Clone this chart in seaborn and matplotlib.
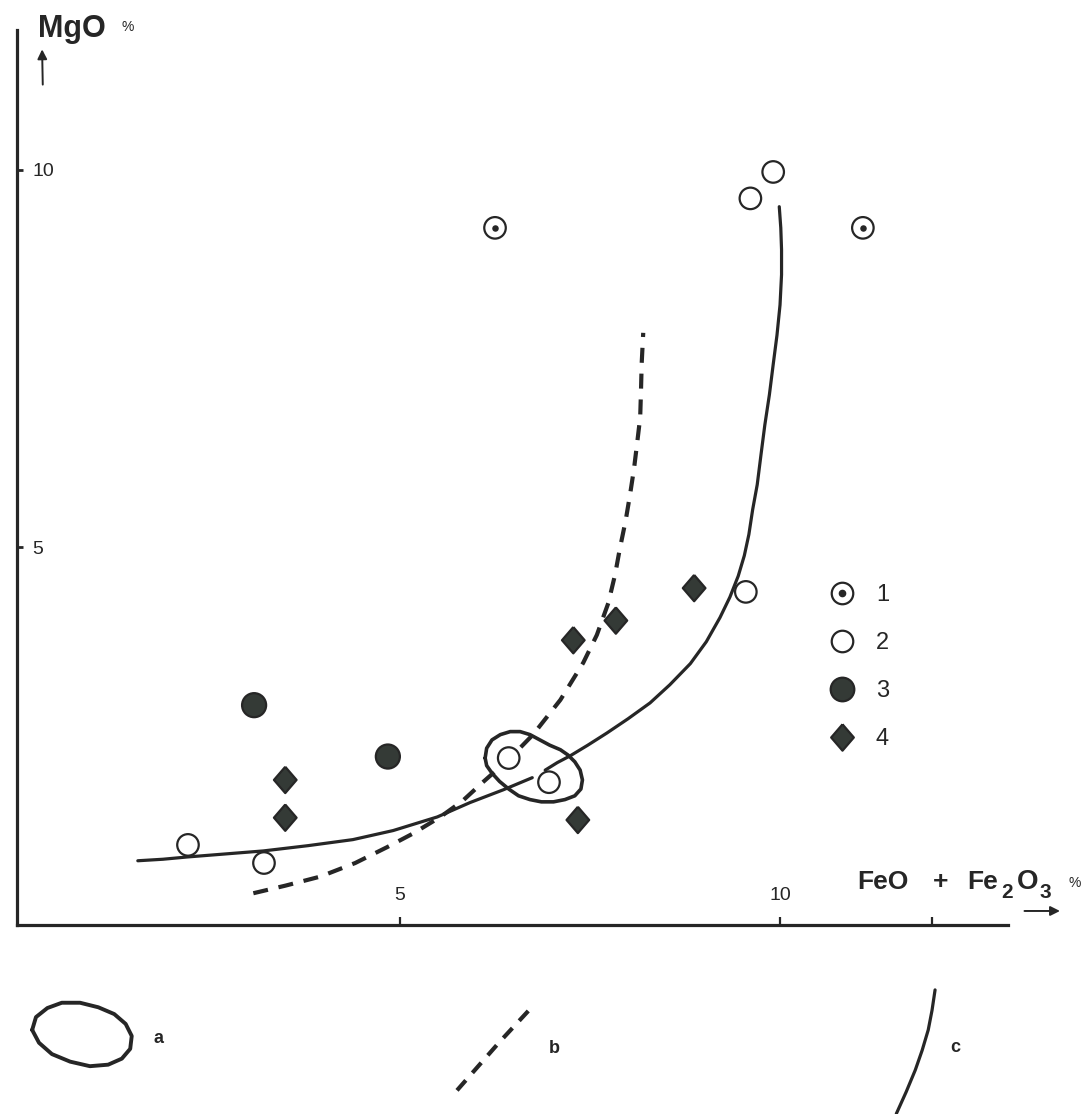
import matplotlib.pyplot as plt
import matplotlib as mpl
from matplotlib.lines import Line2D
import pandas as pd
import seaborn as sns

# --- data (FeO+Fe2O3 %, MgO %) ---
type1_x = [6.25, 11.09]
type1_y = [9.23, 9.23]
type2_x = [9.91, 9.61, 9.55, 6.43, 6.96, 2.21, 3.21]
type2_y = [9.97, 9.62, 4.41, 2.21, 1.89, 1.06, 0.82]
type3_x = [3.08, 4.84]
type3_y = [2.91, 2.23]
type4_x = [3.49, 3.49, 7.28, 7.84, 8.87, 7.34]
type4_y = [1.92, 1.42, 3.77, 4.03, 4.46, 1.39]

# trend c (solid), drawn in two strokes
solid_lo_x = [1.55, 1.88, 2.20, 2.70, 3.20, 3.79, 4.38, 4.91, 5.49, 5.92, 6.36, 6.74]
solid_lo_y = [0.85, 0.87, 0.90, 0.94, 0.98, 1.05, 1.13, 1.25, 1.43, 1.62, 1.79, 1.95]
solid_hi_x = [6.91, 7.07, 7.24, 7.47, 7.72, 8.00, 8.29, 8.55, 8.82, 9.03, 9.21, 9.34, 9.45, 9.53,
              9.59, 9.64, 9.70, 9.75, 9.80, 9.86, 9.91, 9.96, 10.00, 10.02, 10.02, 10.01, 9.99]
solid_hi_y = [2.05, 2.15, 2.24, 2.38, 2.54, 2.73, 2.94, 3.18, 3.46, 3.75, 4.07, 4.34, 4.62, 4.89,
              5.17, 5.50, 5.83, 6.23, 6.62, 7.02, 7.42, 7.81, 8.21, 8.61, 8.94, 9.23, 9.51]
# trend b (dashed)
dash_x = [3.07, 3.49, 3.95, 4.41, 4.83, 5.17, 5.53, 5.82, 6.09, 6.45, 6.75, 7.11, 7.41, 7.59,
          7.74, 7.83, 7.89, 7.97, 8.03, 8.08, 8.12, 8.16, 8.17, 8.18, 8.20]
dash_y = [0.42, 0.52, 0.64, 0.82, 1.03, 1.21, 1.43, 1.64, 1.89, 2.21, 2.52, 2.98, 3.47, 3.84,
          4.26, 4.64, 4.97, 5.36, 5.72, 6.05, 6.38, 6.72, 7.05, 7.44, 7.84]
# field a (closed outline)
field_x = [6.12, 6.14, 6.21, 6.32, 6.45, 6.58, 6.71, 6.84, 6.97, 7.11, 7.21, 7.30, 7.37, 7.40,
           7.38, 7.30, 7.17, 7.02, 6.86, 6.71, 6.56, 6.43, 6.31, 6.21, 6.14, 6.12]
field_y = [2.21, 2.34, 2.45, 2.52, 2.56, 2.56, 2.52, 2.45, 2.38, 2.32, 2.25, 2.16, 2.05, 1.92,
           1.80, 1.71, 1.66, 1.63, 1.63, 1.66, 1.71, 1.80, 1.90, 2.01, 2.11, 2.21]

# key under the diagram (same axis units, below zero)
key_a_x = [0.16, 0.21, 0.36, 0.55, 0.79, 1.03, 1.24, 1.39, 1.47, 1.45, 1.34, 1.16, 0.92, 0.66, 0.42, 0.25, 0.16]
key_a_y = [-1.39, -1.22, -1.10, -1.03, -1.03, -1.09, -1.18, -1.31, -1.47, -1.64, -1.77, -1.85, -1.87,
           -1.81, -1.71, -1.56, -1.39]
key_b_x = [5.75, 6.30, 6.76]
key_b_y = [-2.19, -1.56, -1.06]
key_c_x = [12.04, 12.00, 11.95, 11.87, 11.78, 11.66, 11.53]
key_c_y = [-0.86, -1.13, -1.39, -1.66, -1.92, -2.21, -2.50]
key_labels = ['a', 'b', 'c']
key_label_x = [1.82, 7.03, 12.30]
key_label_y = [-1.50, -1.63, -1.62]

legend_labels = ['1', '2', '3', '4']
x_ticks = [5, 10, 12]
x_ticklabels = ['5', '10', '']
y_ticks = [5, 10]

dark = '#262626'
fill = '#343a36'

df = pd.concat([
    pd.DataFrame({'x': type1_x, 'y': type1_y, 'type': '1'}),
    pd.DataFrame({'x': type2_x, 'y': type2_y, 'type': '2'}),
    pd.DataFrame({'x': type3_x, 'y': type3_y, 'type': '3'}),
    pd.DataFrame({'x': type4_x, 'y': type4_y, 'type': '4'}),
], ignore_index=True)

sns.set_theme(style='white')
plt.rcParams['font.family'] = ['Liberation Sans', 'DejaVu Sans']

fig = plt.figure(figsize=(10.81, 11.14), dpi=100)
ax = fig.add_axes([0.0157, 0.1697, 0.9168, 0.8034])

diamond = mpl.markers.MarkerStyle([(0, 1), (0.86, 0), (0, -1), (-0.86, 0), (0, 1)])

# curves
ax.plot(solid_lo_x, solid_lo_y, color=dark, lw=2.3, solid_capstyle='round', solid_joinstyle='round')
ax.plot(solid_hi_x, solid_hi_y, color=dark, lw=2.3, solid_capstyle='round', solid_joinstyle='round')
ax.plot(dash_x, dash_y, color=dark, lw=3.0, dashes=(3.6, 2.6))
ax.plot(field_x, field_y, color=dark, lw=2.6, solid_joinstyle='round')

# points
sns.scatterplot(data=df, x='x', y='y', hue='type', style='type', size='type',
                palette={'1': 'white', '2': 'white', '3': fill, '4': fill},
                markers={'1': 'o', '2': 'o', '3': 'o', '4': diamond},
                sizes={'1': 240, '2': 240, '3': 300, '4': 360},
                edgecolor=dark, linewidth=1.6, legend=False, ax=ax, zorder=3)
sns.scatterplot(x=type1_x, y=type1_y, color=dark, s=22, linewidth=0, ax=ax, zorder=4)

# key under the plot
ax.plot(key_a_x, key_a_y, color=dark, lw=2.8, clip_on=False, solid_joinstyle='round')
ax.plot(key_b_x, key_b_y, color=dark, lw=3.0, dashes=(3.2, 2.4), clip_on=False)
ax.plot(key_c_x, key_c_y, color=dark, lw=2.3, clip_on=False, solid_joinstyle='round')
for lab, lx, ly in zip(key_labels, key_label_x, key_label_y):
    ax.text(lx, ly, lab, fontsize=13, fontweight='bold', color=dark, ha='center', va='center')

# legend 1-4
h1 = (Line2D([], [], marker='o', ls='', ms=15.5, mfc='white', mec=dark, mew=1.6),
      Line2D([], [], marker='o', ls='', ms=4.5, mfc=dark, mec=dark))
h2 = Line2D([], [], marker='o', ls='', ms=15.5, mfc='white', mec=dark, mew=1.6)
h3 = Line2D([], [], marker='o', ls='', ms=17, mfc=fill, mec=dark, mew=1.6)
h4 = Line2D([], [], marker=diamond, ls='', ms=19, mfc=fill, mec=dark, mew=1.6)
ax.legend([h1, h2, h3, h4], legend_labels, loc='upper left',
          bbox_to_anchor=(10.47, 4.67), bbox_transform=ax.transData,
          frameon=False, fontsize=17, labelspacing=1.1, handlelength=1.2,
          handletextpad=0.85, borderpad=0, labelcolor=dark)

# axes
ax.set_xlim(-0.04, 13.0)
ax.set_ylim(0, 11.85)
sns.despine(ax=ax)
for side in ['left', 'bottom']:
    ax.spines[side].set_linewidth(2.3)
    ax.spines[side].set_color(dark)
ax.set_xticks(x_ticks)
ax.set_xticklabels(x_ticklabels)
ax.set_yticks(y_ticks)
ax.set_yticklabels([str(t) for t in y_ticks])
ax.tick_params(axis='x', direction='in', length=6, width=1.6, color=dark,
               labelsize=14, labelcolor=dark, pad=-27, bottom=True)
ax.tick_params(axis='y', direction='in', length=4.5, width=2, color=dark,
               labelsize=14, labelcolor=dark, pad=-11, left=True)
for lab in ax.get_yticklabels():
    lab.set_horizontalalignment('left')
ax.set_xlabel('')
ax.set_ylabel('')

# axis titles and arrows
ax.text(0.24, 11.76, 'MgO', fontsize=22, fontweight='bold', color=dark, ha='left', va='baseline', clip_on=False)
ax.text(1.34, 11.83, '%', fontsize=10, color=dark, ha='left', va='baseline', clip_on=False)
ax.annotate('', xy=(0.29, 11.63), xytext=(0.30, 11.09), annotation_clip=False,
            arrowprops=dict(arrowstyle='-|>', lw=1.4, color=dark, mutation_scale=14))

xl_parts = ['FeO', '+', 'Fe', '2', 'O', '3']
xl_x = [11.01, 12.01, 12.46, 12.91, 13.12, 13.42]
xl_y = [0.48, 0.48, 0.48, 0.36, 0.48, 0.36]
xl_size = [19, 19, 19, 15, 20, 15]
for part, px, py, fs in zip(xl_parts, xl_x, xl_y, xl_size):
    ax.text(px, py, part, fontsize=fs, fontweight='bold', color=dark, ha='left', va='baseline', clip_on=False)
ax.text(13.80, 0.50, '%', fontsize=10, color=dark, ha='left', va='baseline', clip_on=False)
ax.annotate('', xy=(13.72, 0.185), xytext=(13.18, 0.185), annotation_clip=False,
            arrowprops=dict(arrowstyle='-|>', lw=1.4, color=dark, mutation_scale=14))

fig.savefig('out.png', dpi=100)
